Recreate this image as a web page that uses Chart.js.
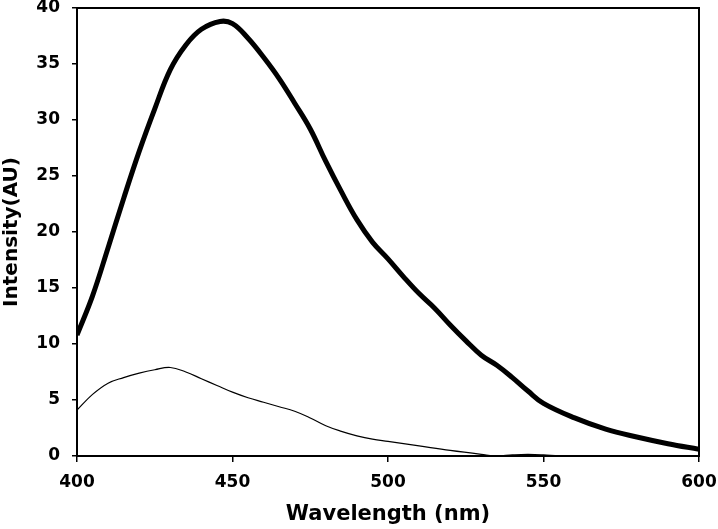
<!DOCTYPE html>
<html>
<head>
<meta charset="utf-8">
<script src="https://cdn.jsdelivr.net/npm/chart.js@4/dist/chart.umd.min.js"></script>
<style>
  html, body { margin: 0; padding: 0; background: #fff; }
  #c { display: block; }
</style>
</head>
<body>
<canvas id="c" width="718" height="529"></canvas>
<script>
// Wavelength (nm) and intensity (AU)
const thickWavelengths = [400,405,410,415,420,425,430,435,440,446,450,455,460,465,470,475,480,485,490,495,500,505,510,515,520,525,530,535,540,545,550,560,570,580,590,600];
const thickIntensity   = [10.8,14.3,18.6,23.0,27.2,31.0,34.5,36.7,38.1,38.8,38.6,37.3,35.6,33.7,31.5,29.2,26.3,23.6,21.1,19.1,17.6,16.0,14.5,13.2,11.7,10.3,9.0,8.1,7.0,5.8,4.7,3.4,2.4,1.7,1.1,0.6];

const thinWavelengths = [400,405,410,415,420,425,430,435,440,445,450,455,460,465,470,475,480,485,490,495,500,510,520,530,535,540,545,550,555,560,580,600];
const thinIntensity   = [4.1,5.5,6.5,7.0,7.4,7.7,7.9,7.5,6.9,6.3,5.7,5.2,4.8,4.4,4.0,3.4,2.7,2.2,1.8,1.5,1.3,0.9,0.5,0.15,0.0,0.1,0.15,0.1,0.0,0.0,0.0,0.0];

const xTicks = [400, 450, 500, 550, 600];
const yTicks = [0, 5, 10, 15, 20, 25, 30, 35, 40];

const xTitle = 'Wavelength (nm)';
const yTitle = 'Intensity(AU)';

function toPoints(xs, ys) { return xs.map((x, i) => ({ x: x, y: ys[i] })); }

const frame = {
  id: 'frame',
  afterDatasetsDraw(chart) {
    const a = chart.chartArea, ctx = chart.ctx;
    ctx.save();
    ctx.strokeStyle = '#000';
    ctx.lineWidth = 2;
    ctx.strokeRect(a.left, a.top, a.right - a.left, a.bottom - a.top);
    ctx.restore();
  }
};

const tickFont = { family: 'DejaVu Sans', weight: 'bold', size: 17 };
const titleFont = { family: 'DejaVu Sans', weight: 'bold', size: 21 };

new Chart(document.getElementById('c'), {
  type: 'line',
  data: {
    datasets: [
      { data: toPoints(thickWavelengths, thickIntensity), borderColor: '#000', borderWidth: 5, pointRadius: 0, tension: 0.4, fill: false },
      { data: toPoints(thinWavelengths, thinIntensity), borderColor: '#000', borderWidth: 1.2, pointRadius: 0, tension: 0.4, fill: false }
    ]
  },
  options: {
    responsive: false,
    animation: false,
    layout: { padding: { top: 8, right: 19, left: 0, bottom: 0 } },
    plugins: { legend: { display: false }, tooltip: { enabled: false } },
    scales: {
      x: {
        type: 'linear', min: 400, max: 600,
        afterBuildTicks(s) { s.ticks = xTicks.map(v => ({ value: v })); },
        afterFit(s) { s.height = 73; s.paddingLeft = 0; s.paddingRight = 0; },
        ticks: { color: '#000', font: tickFont, padding: 10, maxRotation: 0 },
        grid: { drawOnChartArea: false, drawTicks: true, tickLength: 6, color: '#000', lineWidth: 1.5 },
        border: { color: '#000', width: 2 },
        title: { display: true, text: xTitle, color: '#000', font: titleFont, padding: { top: 0, bottom: 2 } }
      },
      y: {
        min: 0, max: 40,
        afterBuildTicks(s) { s.ticks = yTicks.map(v => ({ value: v })); },
        afterFit(s) { s.width = 77; s.paddingTop = 0; s.paddingBottom = 0; },
        ticks: { color: '#000', font: tickFont, padding: 12 },
        grid: { drawOnChartArea: false, drawTicks: true, tickLength: 5, color: '#000', lineWidth: 1.5 },
        border: { color: '#000', width: 2 },
        title: { display: true, text: yTitle, color: '#000', font: { family: 'DejaVu Sans', weight: 'bold', size: 20 }, padding: { top: 0, bottom: 0 } }
      }
    }
  },
  plugins: [frame]
});
</script>
</body>
</html>
